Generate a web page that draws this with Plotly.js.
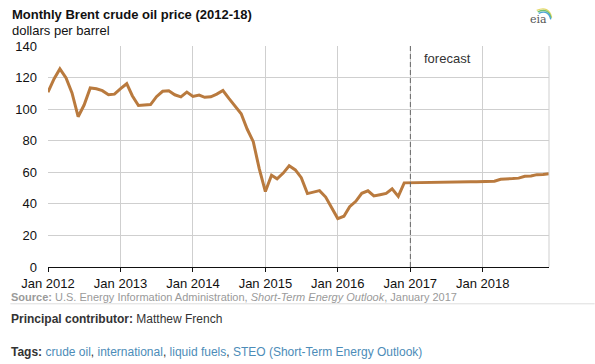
<!DOCTYPE html>
<html>
<head>
<meta charset="utf-8">
<script src="https://cdn.plot.ly/plotly-3.0.1.min.js"></script>
<style>html,body{margin:0;padding:0;background:#fff;}#chart{width:595px;height:364px;}</style>
</head>
<body>
<div id="chart"></div>
<script>
// ---- Data ----
var historical = [
  // 2012
  110.7, 119.3, 125.5, 119.8, 110.3, 95.2, 102.6, 113.4, 112.9, 111.7, 109.1, 109.5,
  // 2013
  113.0, 116.1, 108.5, 102.3, 102.6, 102.9, 107.9, 111.3, 111.6, 109.1, 107.8, 110.8,
  // 2014
  108.1, 108.9, 107.5, 107.8, 109.5, 111.8, 106.8, 101.6, 97.1, 87.4, 79.4, 62.3,
  // 2015
  47.8, 58.1, 55.9, 59.5, 64.1, 61.5, 56.6, 46.5, 47.6, 48.4, 44.3, 38.0,
  // 2016
  30.7, 32.2, 38.2, 41.6, 46.7, 48.3, 45.0, 45.8, 46.6, 49.5, 44.7, 53.3
];
var forecast = [
  // 2017
  53.4, 53.4, 53.4, 53.4, 53.4, 53.5, 54.0, 54.0, 54.0, 54.0, 54.0, 54.0,
  // 2018
  54.0, 54.0, 54.3, 55.6, 56.0, 56.0, 56.3, 57.5, 57.6, 58.5, 58.6, 59.0
];
var forecastStart = '2017-01-01';
var xRange = ['2012-01-01', '2018-12-01'];
var yRange = [0, 140];
var titleText = '<b>Monthly Brent crude oil price (2012-18)</b>';
var unitText = 'dollars per barrel';
var forecastLabel = 'forecast';
var sourceText = '<b>Source:</b> U.S. Energy Information Administration, <i>Short-Term Energy Outlook</i>, January 2017';
var contributorText = '<b>Principal contributor:</b> Matthew French';
var tagLinks = ['crude oil', 'international', 'liquid fuels', 'STEO (Short-Term Energy Outlook)'];

// ---- Build monthly dates ----
var values = historical.concat(forecast);
var dates = [];
for (var i = 0; i < values.length; i++) {
  var y = 2012 + Math.floor(i / 12);
  var m = (i % 12) + 1;
  dates.push(y + '-' + (m < 10 ? '0' + m : m) + '-01');
}

// pixel -> paper helpers (plot area: x 47.7..549.3, y 45.7..266.7)
var L = 47.7, R = 549.3, T = 45.7, B = 266.7;
function px(x) { return (x - L) / (R - L); }
function py(y) { return (B - y) / (B - T); }
function P(x, y) { return px(x) + ',' + py(y); }

var FONT = 'Liberation Sans, Arial, sans-serif';

var trace = {
  x: dates, y: values, type: 'scatter', mode: 'lines',
  line: {color: '#b97a3e', width: 3},
  hoverinfo: 'x+y'
};

var tagsHtml = '<b>Tags:</b> ' + tagLinks.map(function (t) {
  return '<span style="color:#4c8cb8">' + t + '</span>';
}).join(', ');

var layout = {
  width: 595, height: 364,
  margin: {l: L, r: 595 - R, t: T, b: 364 - B, pad: 0},
  paper_bgcolor: '#fff', plot_bgcolor: '#fff',
  showlegend: false,
  font: {family: FONT, size: 13, color: '#222'},
  xaxis: {
    type: 'date', range: xRange,
    dtick: 'M12', tick0: '2012-01-01', tickformat: '%b %Y',
    showgrid: true, gridcolor: '#cfcfcf', gridwidth: 1,
    showline: true, linecolor: '#111', linewidth: 1,
    ticks: 'outside', ticklen: 4, tickcolor: '#111',
    tickfont: {family: FONT, size: 13, color: '#111'},
    zeroline: false, fixedrange: true
  },
  yaxis: {
    range: yRange, dtick: 20,
    showgrid: true, gridcolor: '#cfcfcf', gridwidth: 1,
    showline: false, zeroline: false, ticks: '',
    ticklabelstandoff: 10,
    tickfont: {family: FONT, size: 13, color: '#111'},
    fixedrange: true
  },
  shapes: [
    {type: 'line', xref: 'x', yref: 'y', x0: forecastStart, x1: forecastStart, y0: 0, y1: 140,
     line: {color: '#666', width: 1, dash: '5px,3px'}},
    {type: 'line', xref: 'paper', yref: 'paper', x0: 1, x1: 1, y0: 0, y1: 1,
     line: {color: '#cfcfcf', width: 1}},
    {type: 'line', xref: 'paper', yref: 'paper', x0: px(10), x1: px(595), y0: py(303.5), y1: py(303.5),
     line: {color: '#dddddd', width: 1}},
    // eia logo swooshes
    {type: 'path', xref: 'paper', yref: 'paper',
     path: 'M ' + P(537, 10) + ' Q ' + P(549, 5) + ' ' + P(552, 17),
     line: {color: '#e6d96a', width: 1.3}},
    {type: 'path', xref: 'paper', yref: 'paper',
     path: 'M ' + P(538, 11.5) + ' Q ' + P(549, 7) + ' ' + P(551.5, 18),
     line: {color: '#72c06e', width: 1.3}},
    {type: 'path', xref: 'paper', yref: 'paper',
     path: 'M ' + P(539, 13) + ' Q ' + P(549, 9) + ' ' + P(551, 19),
     line: {color: '#4aa3d6', width: 1.3}}
  ],
  annotations: [
    {text: titleText, xref: 'paper', yref: 'paper', x: px(10), y: py(14.5), xanchor: 'left', yanchor: 'middle',
     showarrow: false, font: {family: FONT, size: 13, color: '#111'}},
    {text: unitText, xref: 'paper', yref: 'paper', x: px(10), y: py(30), xanchor: 'left', yanchor: 'middle',
     showarrow: false, font: {family: FONT, size: 13, color: '#111'}},
    {text: forecastLabel, xref: 'paper', yref: 'paper', x: px(422.5), y: py(58), xanchor: 'left', yanchor: 'middle',
     showarrow: false, font: {family: FONT, size: 13, color: '#333'}},
    {text: sourceText, xref: 'paper', yref: 'paper', x: px(9), y: py(296.5), xanchor: 'left', yanchor: 'middle',
     showarrow: false, font: {family: FONT, size: 11, color: '#9a9a9a'}},
    {text: contributorText, xref: 'paper', yref: 'paper', x: px(9), y: py(319), xanchor: 'left', yanchor: 'middle',
     showarrow: false, font: {family: FONT, size: 12, color: '#333'}},
    {text: tagsHtml, xref: 'paper', yref: 'paper', x: px(9), y: py(351.5), xanchor: 'left', yanchor: 'middle',
     showarrow: false, font: {family: FONT, size: 12, color: '#333'}},
    {text: 'eia', xref: 'paper', yref: 'paper', x: px(539), y: py(19), xanchor: 'center', yanchor: 'middle',
     showarrow: false, font: {family: 'DejaVu Serif, serif', size: 11, color: '#555'}}
  ]
};

Plotly.newPlot('chart', [trace], layout, {displayModeBar: false, staticPlot: true});
</script>
</body>
</html>
